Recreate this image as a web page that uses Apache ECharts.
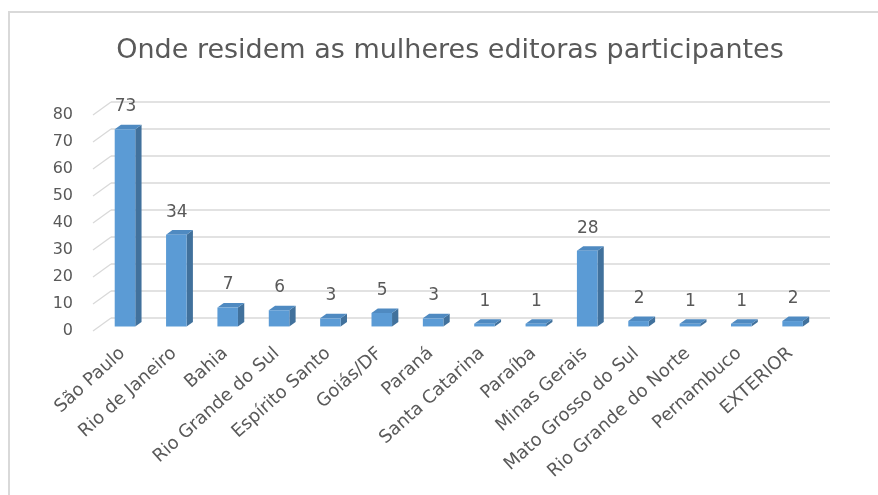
<!DOCTYPE html>
<html>
<head>
<meta charset="utf-8">
<script src="https://cdn.jsdelivr.net/npm/echarts@6/dist/echarts.min.js"></script>
<style>
  html, body { margin: 0; padding: 0; background: #ffffff; overflow: hidden; }
  #frame { position: absolute; left: 8px; top: 11px; width: 868px; height: 600px;
           border-left: 2px solid #d9d9d9; border-top: 2px solid #d9d9d9; }
  #chart { position: absolute; left: 0; top: 0; width: 878px; height: 495px; }
</style>
</head>
<body>
<div id="frame"></div>
<div id="chart"></div>
<script>
// Where the participating women editors live (count per state)
const categories = [
  'São Paulo', 'Rio de Janeiro', 'Bahia', 'Rio Grande do Sul', 'Espírito Santo',
  'Goiás/DF', 'Paraná', 'Santa Catarina', 'Paraíba', 'Minas Gerais',
  'Mato Grosso do Sul', 'Rio Grande do Norte', 'Pernambuco', 'EXTERIOR'
];
const values = [73, 34, 7, 6, 3, 5, 3, 1, 1, 28, 2, 1, 1, 2];
const yTicks = [0, 10, 20, 30, 40, 50, 60, 70, 80];

const FONT = 'DejaVu Sans';
const TEXT = '#595959';
const GRIDLINE = '#d9d9d9';

// oblique projection of the depth axis (front plane -> back wall)
const DEPTH_X = 18;
const DEPTH_Y = -13;
// bars occupy this slice of the depth
const BAR_NEAR = 0.35;
const BAR_DEEP = 0.35;
const BAR_WIDTH = 0.40;

const chart = echarts.init(document.getElementById('chart'), null, { renderer: 'canvas' });

// back wall gridlines plus the diagonal lines on the left side wall
function renderWall(params, api) {
  const cs = params.coordSys;
  const y = api.coord([0, api.value(1)])[1];
  const style = { stroke: GRIDLINE, lineWidth: 1.3 };
  return {
    type: 'group',
    children: [
      { type: 'line', shape: { x1: cs.x, y1: y, x2: cs.x + DEPTH_X, y2: y + DEPTH_Y }, style },
      { type: 'line', shape: { x1: cs.x + DEPTH_X, y1: y + DEPTH_Y, x2: cs.x + cs.width + DEPTH_X, y2: y + DEPTH_Y }, style }
    ]
  };
}

// a column drawn as front, side and top faces with its value above
function renderColumn(params, api) {
  const i = api.value(0);
  const v = api.value(1);
  const top = api.coord([i, v]);
  const base = api.coord([i, 0]);
  const band = api.size([1, 0])[0];
  const w = band * BAR_WIDTH;
  const ox = DEPTH_X * BAR_NEAR, oy = DEPTH_Y * BAR_NEAR;
  const dx = DEPTH_X * BAR_DEEP, dy = DEPTH_Y * BAR_DEEP;
  const x0 = top[0] - w / 2 + ox;
  const x1 = x0 + w;
  const yt = top[1] + oy;
  const yb = base[1] + oy;
  return {
    type: 'group',
    children: [
      { type: 'polygon', shape: { points: [[x1, yt], [x1 + dx, yt + dy], [x1 + dx, yb + dy], [x1, yb]] },
        style: { fill: '#41719c' } },
      { type: 'polygon', shape: { points: [[x0, yt], [x1, yt], [x1 + dx, yt + dy], [x0 + dx, yt + dy]] },
        style: { fill: '#4f8ac1' } },
      { type: 'rect', shape: { x: x0, y: yt, width: w, height: yb - yt },
        style: { fill: '#5b9bd5' } },
      { type: 'text', style: { text: String(v), x: (x0 + x1) / 2 + 0.5, y: yt - 22.5,
        align: 'center', verticalAlign: 'middle', fontFamily: FONT, fontSize: 17, fill: TEXT } }
    ]
  };
}

chart.setOption({
  animation: false,
  title: {
    text: 'Onde residem as mulheres editoras participantes',
    left: 445,
    textAlign: 'center',
    top: 32,
    textStyle: { fontFamily: FONT, fontSize: 27, fontWeight: 'normal', color: TEXT }
  },
  grid: [
    { left: 93, right: 66, top: 115, bottom: 164 },
    { left: 97, right: 62, top: 115, bottom: 164 }
  ],
  xAxis: [
    { type: 'category', gridIndex: 0, data: categories,
      axisLine: { show: false }, axisTick: { show: false }, axisLabel: { show: false },
      splitLine: { show: false } },
    { type: 'category', gridIndex: 1, data: categories,
      axisLine: { show: false }, axisTick: { show: false }, splitLine: { show: false },
      axisLabel: { interval: 0, rotate: 42, margin: 20, fontFamily: FONT, fontSize: 18, color: TEXT } }
  ],
  yAxis: [
    { type: 'value', gridIndex: 0, min: 0, max: 80, interval: 10,
      axisLine: { show: false }, axisTick: { show: false }, splitLine: { show: false },
      axisLabel: { margin: 20, fontFamily: FONT, fontSize: 16, color: TEXT } },
    { type: 'value', gridIndex: 1, min: 0, max: 80, interval: 10, show: false,
      splitLine: { show: false } }
  ],
  series: [
    { type: 'custom', name: 'wall', xAxisIndex: 0, yAxisIndex: 0, z: 1, silent: true,
      renderItem: renderWall,
      data: yTicks.map(t => [0, t]) },
    { type: 'custom', name: 'Participantes', xAxisIndex: 0, yAxisIndex: 0, z: 5,
      renderItem: renderColumn,
      data: values.map((v, i) => [i, v]) }
  ]
});
</script>
</body>
</html>
